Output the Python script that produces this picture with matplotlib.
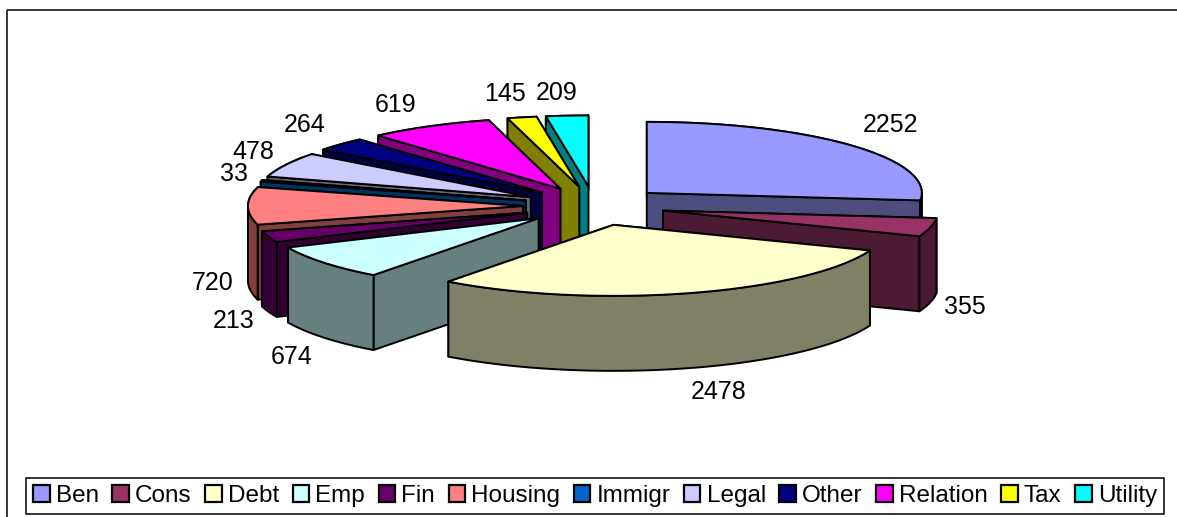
import numpy as np
import matplotlib
matplotlib.use('Agg')
import matplotlib.pyplot as plt
from matplotlib.patches import Polygon, Rectangle, Patch

plt.rcParams['font.family'] = ['Liberation Sans', 'DejaVu Sans']

categories = ['Ben', 'Cons', 'Debt', 'Emp', 'Fin', 'Housing', 'Immigr', 'Legal', 'Other', 'Relation', 'Tax', 'Utility']
values = [2252, 355, 2478, 674, 213, 720, 33, 478, 264, 619, 145, 209]
top_colors = ['#9999FF', '#993366', '#FFFFCC', '#CCFFFF', '#660066', '#FF8080', '#0066CC', '#CCCCFF', '#000080', '#FF00FF', '#FFFF00', '#00FFFF']
side_colors = ['#4D4D80', '#4D1A33', '#808066', '#668080', '#330033', '#804040', '#003366', '#666680', '#000040', '#800080', '#808000', '#008080']

# where each value label sits, in picture pixels
label_x = [890, 965, 719, 292, 234, 213, 234, 253, 305, 396, 505, 557]
label_y = [125, 307, 392, 357, 321, 283, 174, 152, 125, 105, 94, 93]

# pie geometry in picture pixels
cx, cy = 594, 206
rx, ry = 275, 71
explode_x, explode_y = 71, 19.6
depth = 75


def arc(x0, y0, a, b):
    t = np.radians(np.linspace(a, b, max(int(abs(b - a)) * 2, 2) + 1))
    return np.column_stack([x0 + rx * np.sin(t), y0 - ry * np.cos(t)])


fig = plt.figure(figsize=(11.77, 5.17), dpi=100)
ax = fig.add_axes([0, 0, 1, 1])
ax.set_xlim(0, 1177)
ax.set_ylim(517, 0)
ax.axis('off')

ax.add_patch(Rectangle((7, 10), 1300, 600, fill=False, ec='black', lw=1.1))

# angles go clockwise from 12 o'clock
edges = np.cumsum([0] + values) / sum(values) * 360.0
slices = []
for i in range(len(values)):
    a, b = edges[i], edges[i + 1]
    mid = np.radians((a + b) / 2)
    x0 = cx + explode_x * np.sin(mid)
    y0 = cy - explode_y * np.cos(mid)
    slices.append((y0, x0, a, b, i))

# back slices first so the front ones paint over them
for y0, x0, a, b, i in sorted(slices):
    outer = arc(x0, y0, a, b)
    apex = np.array([[x0, y0]])
    down = np.array([0, depth])
    faces = [
        np.vstack([apex, outer[:1], outer[:1] + down, apex + down]),
        np.vstack([apex, outer[-1:], outer[-1:] + down, apex + down]),
    ]
    # the outer wall folds over at the far left and right, so split it there
    stops = [a] + [s for s in (90, 270) if a < s < b] + [b]
    for s0, s1 in zip(stops[:-1], stops[1:]):
        part = arc(x0, y0, s0, s1)
        faces.append(np.vstack([part, (part + down)[::-1]]))
    for f in sorted(faces, key=lambda p: p[:, 1].mean()):
        ax.add_patch(Polygon(f, closed=True, fc=side_colors[i], ec='black', lw=1.4, joinstyle='round'))
    ax.add_patch(Polygon(np.vstack([apex, outer]), closed=True, fc=top_colors[i], ec='black', lw=1.4, joinstyle='round'))

for i in range(len(values)):
    ax.text(label_x[i], label_y[i], str(values[i]), fontsize=18, ha='center', va='center', color='black')

handles = [Patch(fc=top_colors[i], ec='black', lw=1.6) for i in range(len(values))]
leg = ax.legend(handles, categories, ncol=len(values), loc='center', bbox_to_anchor=(595, 496),
                bbox_transform=ax.transData, fontsize=17.5, frameon=True, fancybox=False,
                edgecolor='black', framealpha=1, handlelength=0.68, handleheight=0.68,
                handletextpad=0.25, columnspacing=0.56, borderpad=0.3, borderaxespad=0)
leg.get_frame().set_linewidth(1.1)

fig.savefig('out.png', dpi=100)
